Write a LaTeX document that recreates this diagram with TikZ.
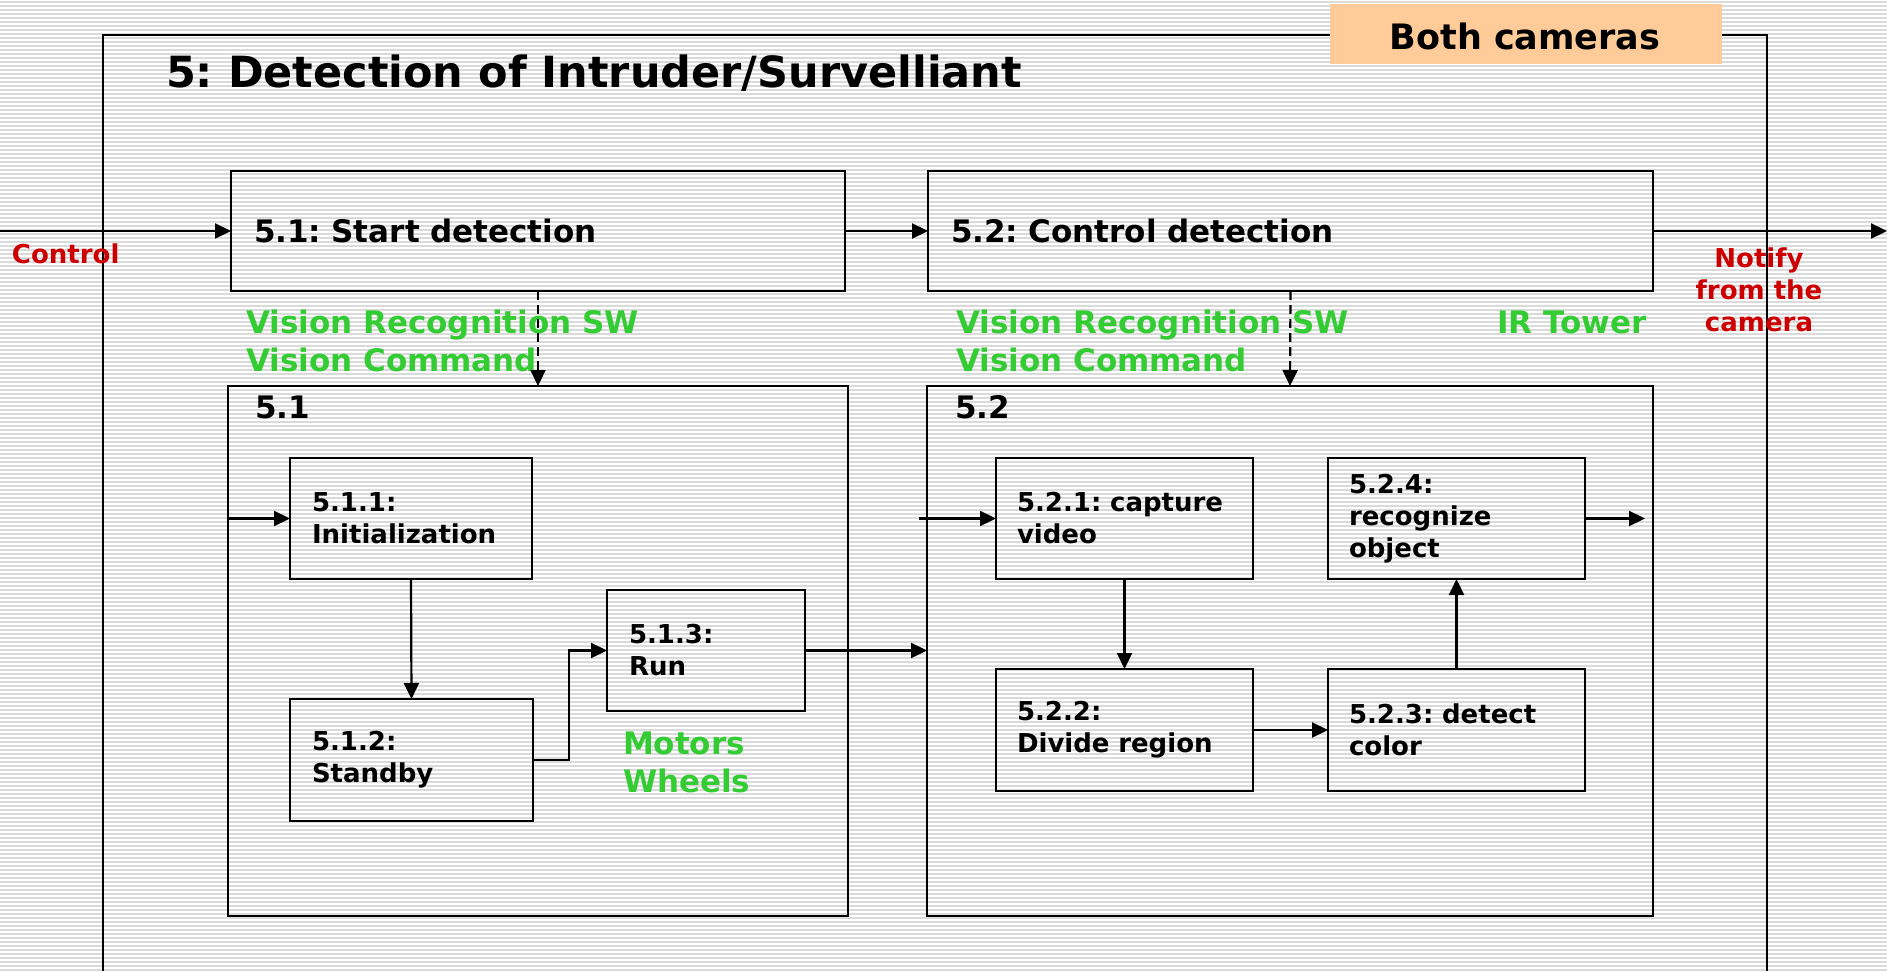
\documentclass[tikz,border=0pt]{standalone}
\usepackage{fontspec}
\setmainfont{DejaVu Sans}
\usetikzlibrary{arrows.meta}
\definecolor{lblgreen}{RGB}{51,204,51}
\definecolor{lblred}{RGB}{204,0,0}
\definecolor{camorange}{RGB}{255,204,153}
\definecolor{stripegray}{RGB}{218,218,218}
\newcommand\ttlfont{\fontsize{43}{50}\selectfont\bfseries}
\newcommand\camfont{\fontsize{35}{42}\selectfont\bfseries}
\newcommand\bigfont{\fontsize{31}{36}\selectfont\bfseries}
\newcommand\inrfont{\fontsize{26}{32}\selectfont\bfseries}
\newcommand\grnfont{\fontsize{31}{38.5}\selectfont\bfseries}
\newcommand\redfont{\fontsize{26}{32}\selectfont\bfseries}
\frenchspacing
\begin{document}
\begin{tikzpicture}[x=1pt,y=-1pt,
  stripe/.style={stripegray, line width=1.7pt},
  frame/.style={draw=black, line width=2.2pt},
  box/.style={draw=black, line width=2.6pt, inner sep=0pt, outer sep=0pt},
  tbox/.style={box, align=left, font=\inrfont},
  conn/.style={draw=black, line width=2.2pt, -{Triangle[length=16pt,width=15pt]}},
  dconn/.style={conn, dash pattern=on 9pt off 5pt},
  txt/.style={inner sep=0pt, outer sep=0pt},
  green/.style={txt, text=lblgreen, font=\grnfont},
  red/.style={txt, text=lblred, font=\redfont}
]
\useasboundingbox (0,0) rectangle (1887,971);
\fill[white] (0,0) rectangle (1887,971);
\foreach \i in {0,...,242} {\draw[stripe] (0,4*\i+2) -- (1887,4*\i+2);}

% outer frame (no bottom edge inside the picture)
\draw[frame] (103,975) -- (103,35) -- (1767,35) -- (1767,975);

% header tag
\node[fill=camorange, minimum width=392pt, minimum height=60pt, inner sep=0pt] (cams) at (1526,34) {};
\node[txt, anchor=base, font=\camfont] (camtxt) at (1525,50) {Both cameras};

% title
\node[txt, anchor=base west, font=\ttlfont] (title) at (166,88) {5: Detection of Intruder/Survelliant};

% top level boxes
\node[box, minimum width=614pt, minimum height=120pt, text width=568pt, inner xsep=23pt, align=left, font=\bigfont] (sA) at (538,231) {5.1: Start detection};
\node[box, minimum width=725pt, minimum height=120pt, text width=679pt, inner xsep=23pt, align=left, font=\bigfont] (sB) at (1290.5,231) {5.2: Control detection};

% big sub boxes
\node[box, minimum width=620pt, minimum height=530pt] (big51) at (538,651) {};
\node[box, minimum width=726pt, minimum height=530pt] (big52) at (1290,651) {};
\node[txt, anchor=base west, font=\bigfont] (lbl51) at (255,418) {5.1};
\node[txt, anchor=base west, font=\bigfont] (lbl52) at (955,418) {5.2};

% inner boxes of 5.1
\node[tbox, minimum width=242pt, minimum height=121pt, text width=198pt, inner xsep=22pt] (b511) at (411,518.5) {5.1.1:\\Initialization};
\node[tbox, minimum width=243pt, minimum height=122pt, text width=199pt, inner xsep=22pt] (b512) at (411.5,760) {5.1.2:\\Standby};
\node[tbox, minimum width=198pt, minimum height=121pt, text width=154pt, inner xsep=22pt] (b513) at (706,650.5) {5.1.3:\\Run};

% inner boxes of 5.2
\node[tbox, minimum width=257pt, minimum height=121pt, text width=215pt, inner xsep=21pt] (b521) at (1124.5,518.5) {5.2.1: capture\\video};
\node[tbox, minimum width=257pt, minimum height=122pt, text width=215pt, inner xsep=21pt] (b522) at (1124.5,730) {5.2.2:\\Divide region};
\node[tbox, minimum width=257pt, minimum height=122pt, text width=215pt, inner xsep=21pt] (b523) at (1456.5,730) {5.2.3: detect\\color};
\node[tbox, minimum width=257pt, minimum height=121pt, text width=215pt, inner xsep=21pt] (b524) at (1456.5,518.5) {5.2.4:\\recognize\\object};

% labels
\node[red, anchor=base west] (ctrl) at (12,263) {Control};
\node[red, anchor=base] (notify) at (1759,267) {\parbox[t]{200pt}{\centering Notify\\from the\\camera}};
\node[green, anchor=base west] (vis1) at (246,333) {\parbox[t]{500pt}{Vision Recognition SW\\Vision Command}};
\node[green, anchor=base west] (vis2) at (956,333) {\parbox[t]{500pt}{Vision Recognition SW\\Vision Command}};
\node[green, anchor=base west] (irt) at (1497,333) {IR Tower};
\node[green, anchor=base west] (mot) at (623,754) {\parbox[t]{300pt}{Motors\\Wheels}};

% free ends
\coordinate (cin) at (0,231);
\coordinate (cout) at (1887,231);
\coordinate (in511) at (229,518.5);
\coordinate (in521) at (919,518.5);
\coordinate (out524) at (1645,518.5);

% connectors
\draw[conn] (cin) -- (sA.west);
\draw[conn] (sA.east) -- (sB.west);
\draw[conn] (sB.east) -- (cout);
\draw[dconn] (sA.south) -- (big51.north);
\draw[dconn] (sB.south) -- (big52.north);
\draw[conn] (in511) -- (b511.west);
\draw[conn] (b511.south) -- (b512.north);
\draw[conn] (b512.east) -- ++(36,0) |- (b513.west);
\draw[conn] (b513.east) -- (b513.east -| big52.west);
\draw[conn] (in521) -- (b521.west);
\draw[conn] (b521.south) -- (b522.north);
\draw[conn] (b522.east) -- (b523.west);
\draw[conn] (b523.north) -- (b524.south);
\draw[conn] (b524.east) -- (out524);
\end{tikzpicture}
\end{document}
